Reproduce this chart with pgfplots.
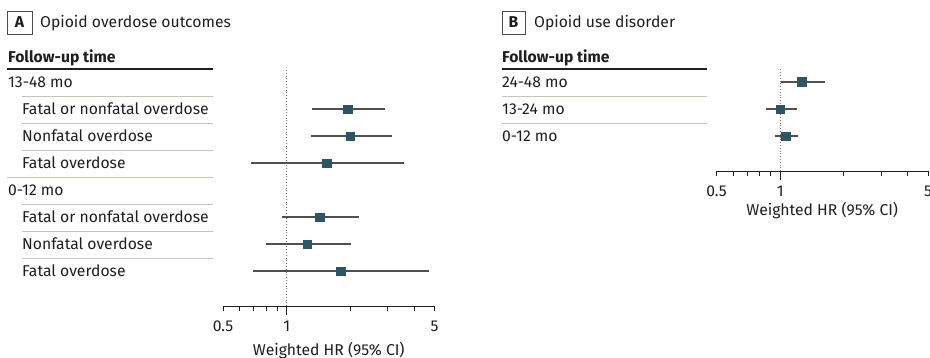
\documentclass[border=0pt]{standalone}
\usepackage{pgfplots}
\pgfplotsset{compat=1.18}
\usepackage{pgfplotstable}
\usepackage{fontspec}
\setmainfont{Fira Sans}

\definecolor{hrmark}{RGB}{45,85,98}
\definecolor{ciline}{RGB}{80,80,80}
\definecolor{rulegray}{RGB}{200,196,188}
\definecolor{txt}{RGB}{30,30,30}
\definecolor{refline}{RGB}{120,120,120}

\newcommand\lbl{\fontsize{15.7}{18}\selectfont}

% Hazard ratios with 95% CI; row = negative row index
\pgfplotstableread{
row hr lo hi
-2 1.94 1.32 2.92
-3 2.00 1.31 3.15
-4 1.55 0.68 3.60
-6 1.43 0.95 2.19
-7 1.25 0.80 2.01
-8 1.80 0.69 4.72
}\tabA
\pgfplotstableread{
row hr lo hi
-1 1.26 1.01 1.63
-2 1.00 0.855 1.20
-3 1.06 0.95 1.22
}\tabB

\pgfplotsset{
  hrpanel/.style={
    scale only axis, width=211.5pt,
    axis x line=bottom, axis y line=none,
    axis line style={-, line width=0.8pt, txt},
    xtick={0.5,1,5}, xticklabels={0.5,1,5},
    minor xtick={0.6,0.7,0.8,0.9,2,3,4},
    tick align=outside,
    major tick length=5pt, minor tick length=5pt,
    tick style={line width=0.8pt, txt},
    x tick label style={font=\lbl, text=txt, anchor=base, yshift=-21pt},
    xlabel={Weighted HR (95\% CI)},
    xlabel style={font=\lbl, text=txt, at={(axis description cs:0.5,0)}, anchor=base},
    ytick=\empty, clip=false,
  },
  ci/.style={ciline, line width=1.2pt},
  hrpt/.style={only marks, mark=square*, mark size=4.3pt, mark options={fill=hrmark, draw=hrmark}},
  nullline/.style={refline, line width=0.8pt, dotted},
}

\begin{document}
\begin{tikzpicture}
\useasboundingbox (0,0) rectangle (930pt,-358pt);

% ---------- Panel A ----------
\draw[gray!60!black, line width=0.8pt] (7pt,-11pt) rectangle (32pt,-34pt);
\node[font=\lbl\bfseries, text=txt] at (19.5pt,-22.5pt) {A};
\node[anchor=base west, inner sep=0, font=\lbl, text=txt] at (40pt,-28pt) {Opioid overdose outcomes};
\node[anchor=base west, inner sep=0, font=\lbl\bfseries, text=txt] at (8pt,-63pt) {Follow-up time};
\draw[txt, line width=1.2pt] (7pt,-69pt) -- (213pt,-69pt);
\foreach \yy/\xx in {96/22,123/22,150/22,177/7,204/22,231/22,258/22}
  \draw[rulegray, line width=0.9pt] (\xx pt,-\yy pt) -- (213pt,-\yy pt);
\foreach \yy/\xx/\t in {88/8/13-48 mo, 115/22/Fatal or nonfatal overdose, 142/22/Nonfatal overdose,
  169/22/Fatal overdose, 196/8/0-12 mo, 223/22/Fatal or nonfatal overdose,
  250/22/Nonfatal overdose, 277/22/Fatal overdose}
  \node[anchor=base west, inner sep=0, font=\lbl, text=txt] at (\xx pt,-\yy pt) {\t};

\begin{axis}[xmode=log, xmin=0.5, xmax=5, hrpanel,
  at={(223pt,-306pt)}, anchor=south west,
  height=238pt, ymin=-9.296, ymax=-0.4815,
  xlabel style={yshift=-49pt}]
  \addplot[nullline] coordinates {(1,-9.296) (1,-0.4815)};
  \draw[txt, line width=0.8pt] (axis cs:1,-9.296) -- ++(0pt,-9pt);
  \addplot[ci] coordinates {(1.32,-2) (2.92,-2)};
  \addplot[ci] coordinates {(1.31,-3) (3.15,-3)};
  \addplot[ci] coordinates {(0.68,-4) (3.60,-4)};
  \addplot[ci] coordinates {(0.95,-6) (2.19,-6)};
  \addplot[ci] coordinates {(0.80,-7) (2.01,-7)};
  \addplot[ci] coordinates {(0.69,-8) (4.72,-8)};
  \addplot[hrpt] table[x=hr, y=row] {\tabA};
\end{axis}

% ---------- Panel B ----------
\draw[gray!60!black, line width=0.8pt] (502pt,-11pt) rectangle (525pt,-34pt);
\node[font=\lbl\bfseries, text=txt] at (513.5pt,-22.5pt) {B};
\node[anchor=base west, inner sep=0, font=\lbl, text=txt] at (534pt,-28pt) {Opioid use disorder};
\node[anchor=base west, inner sep=0, font=\lbl\bfseries, text=txt] at (502pt,-63pt) {Follow-up time};
\draw[txt, line width=1.2pt] (502pt,-69pt) -- (707pt,-69pt);
\foreach \yy in {96,123}
  \draw[rulegray, line width=0.9pt] (502pt,-\yy pt) -- (707pt,-\yy pt);
\foreach \yy/\t in {88/24-48 mo, 115/13-24 mo, 142/0-12 mo}
  \node[anchor=base west, inner sep=0, font=\lbl, text=txt] at (502pt,-\yy pt) {\t};

\begin{axis}[xmode=log, xmin=0.5, xmax=5, hrpanel,
  at={(716.5pt,-171pt)}, anchor=south west,
  height=103pt, ymin=-4.296, ymax=-0.4815,
  xlabel style={yshift=-45pt}]
  \addplot[nullline] coordinates {(1,-4.296) (1,-0.4815)};
  \draw[txt, line width=0.8pt] (axis cs:1,-4.296) -- ++(0pt,-9pt);
  \addplot[ci] coordinates {(1.01,-1) (1.63,-1)};
  \addplot[ci] coordinates {(0.855,-2) (1.20,-2)};
  \addplot[ci] coordinates {(0.95,-3) (1.22,-3)};
  \addplot[hrpt] table[x=hr, y=row] {\tabB};
\end{axis}
\end{tikzpicture}
\end{document}
